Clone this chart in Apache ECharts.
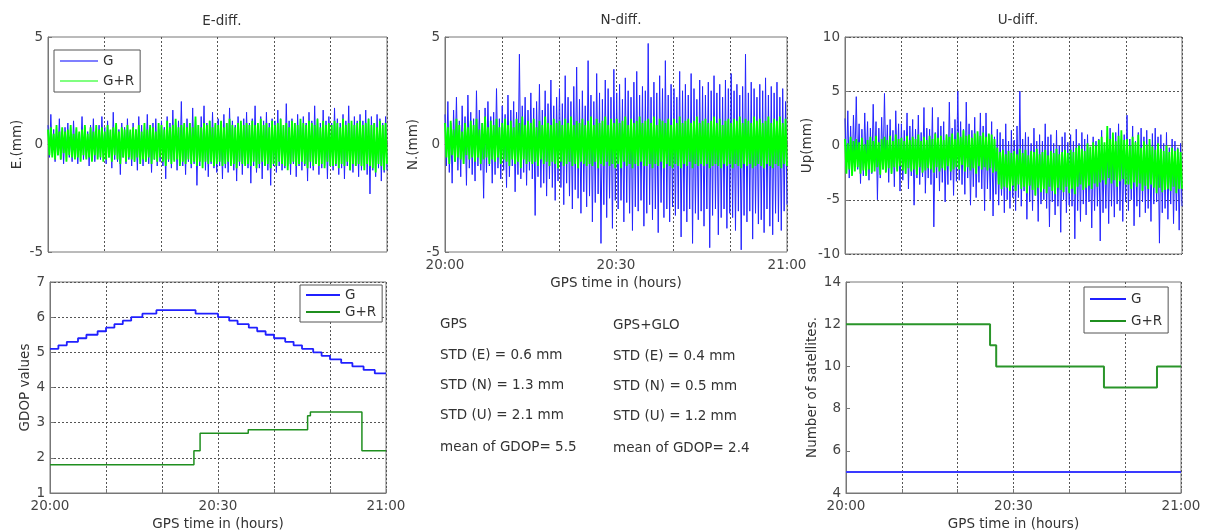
<!DOCTYPE html>
<html><head><meta charset="utf-8">
<script src="https://cdn.jsdelivr.net/npm/echarts@6/dist/echarts.min.js"></script>
<style>html,body{margin:0;padding:0;background:#fff}#c{width:1207px;height:532px}</style>
</head><body><div id="c"></div>
<script>
// ---- data ----
var timeTicks = ['20:00', '20:30', '21:00'];
// E-diff (mm), G and G+R, sampled evenly over 20:00-21:00
var eG = [
 0.9,-0.6,1.4,-0.4,0.7,-0.8,0.5,-0.5,1.2,-0.7,0.6,-0.9,0.8,-0.3,1.0,-0.6,0.4,-0.8,1.1,-0.5,
 0.7,-0.9,0.5,-0.4,1.3,-0.7,0.8,-0.6,0.6,-1.0,0.9,-0.5,1.2,-0.8,0.5,-0.6,0.9,-0.7,1.3,-0.4,
 0.8,-0.9,1.1,-0.6,0.6,-1.1,1.5,-0.7,0.9,-0.8,0.7,-1.4,1.0,-0.6,0.8,-0.9,1.2,-0.7,0.6,-1.0,
 1.0,-0.8,0.7,-1.2,1.3,-0.6,0.9,-1.0,0.6,-0.8,1.4,-0.9,0.8,-1.3,1.0,-0.7,1.2,-1.0,0.7,-0.8,
 1.1,-1.0,0.8,-1.6,1.3,-0.8,1.0,-1.1,1.6,-0.7,0.9,-1.2,1.1,-0.9,2.0,-1.0,0.8,-1.4,1.2,-0.8,
 1.0,-1.1,1.7,-0.9,1.2,-1.9,0.9,-1.0,1.3,-0.8,1.8,-1.2,1.0,-1.5,1.1,-0.9,1.5,-1.1,0.9,-1.3,
 1.2,-1.0,0.9,-1.6,1.4,-1.1,1.0,-1.3,1.7,-0.9,1.1,-1.2,0.9,-1.7,1.3,-1.0,1.0,-1.4,1.2,-0.9,
 1.5,-1.1,1.0,-1.8,1.2,-1.0,1.8,-1.3,0.9,-1.1,1.3,-1.6,1.1,-1.0,1.5,-1.2,1.0,-1.9,1.2,-1.0,
 1.1,-1.3,1.6,-1.0,1.2,-1.2,0.9,-1.1,1.9,-1.0,1.1,-1.4,1.2,-0.9,1.0,-1.5,1.4,-1.0,1.1,-1.2,
 1.3,-1.0,1.0,-1.7,1.5,-1.1,1.1,-1.2,1.8,-0.9,1.2,-1.4,1.0,-1.1,1.6,-1.0,1.1,-1.6,1.3,-1.0,
 1.0,-1.2,1.7,-1.0,1.2,-1.4,1.0,-1.1,1.4,-1.6,1.1,-1.0,1.8,-1.2,1.0,-1.3,1.3,-1.0,1.1,-1.5,
 1.4,-1.2,1.1,-1.0,1.6,-1.4,1.2,-2.3,1.3,-1.2,1.0,-1.5,1.4,-1.1,1.2,-1.7,1.0,-1.3,1.3,-1.2];
var eR = [
 0.7,-0.5,0.8,-0.6,0.5,-0.7,0.9,-0.5,0.6,-0.7,0.8,-0.4,0.6,-0.8,0.7,-0.5,0.9,-0.6,0.5,-0.7,
 0.8,-0.6,0.6,-0.8,0.7,-0.5,0.9,-0.7,0.5,-0.6,0.8,-0.8,0.6,-0.5,0.9,-0.7,0.7,-0.6,0.8,-0.8,
 0.6,-0.7,0.9,-0.6,0.7,-0.8,0.8,-0.5,1.0,-0.7,0.6,-0.9,0.8,-0.6,0.7,-0.8,0.9,-0.6,0.7,-0.7,
 0.8,-0.8,0.7,-0.6,0.9,-0.9,0.6,-0.7,1.0,-0.8,0.7,-0.6,0.9,-0.9,0.8,-0.7,0.6,-0.8,1.0,-0.6,
 0.9,-0.8,0.7,-1.0,1.1,-0.7,0.8,-0.9,0.9,-0.8,1.2,-0.7,0.8,-1.0,0.9,-0.8,1.0,-0.9,0.8,-0.7,
 1.0,-0.9,0.8,-0.8,1.3,-1.0,0.9,-0.8,0.8,-1.1,1.0,-0.8,0.9,-0.9,1.1,-0.8,0.8,-1.0,1.0,-0.9,
 0.9,-0.8,1.1,-1.0,0.8,-0.9,1.0,-0.8,1.2,-1.0,0.9,-0.9,0.8,-1.1,1.0,-0.8,1.1,-0.9,0.9,-1.0,
 1.0,-0.9,0.9,-1.0,1.1,-0.8,0.9,-1.1,1.0,-0.9,1.2,-0.8,0.9,-1.0,1.0,-0.9,0.8,-1.1,1.1,-0.9,
 0.9,-1.0,1.0,-0.8,1.2,-0.9,0.9,-1.0,1.0,-1.2,0.8,-0.9,1.1,-0.8,1.0,-1.0,0.9,-0.9,1.2,-0.8,
 1.0,-0.9,0.9,-1.1,1.1,-0.8,1.0,-1.0,0.9,-0.9,1.2,-1.0,0.8,-0.9,1.1,-1.1,0.9,-0.8,1.0,-1.0,
 0.9,-1.0,1.1,-0.9,1.0,-1.1,0.8,-0.9,1.2,-1.0,0.9,-0.8,1.0,-1.2,1.1,-0.9,0.9,-1.0,1.0,-0.9,
 1.1,-1.0,0.9,-1.2,1.0,-0.9,1.2,-1.0,0.9,-1.1,1.0,-1.3,0.8,-0.9,1.1,-1.0,0.9,-1.2,1.0,-0.9];
// N-diff (mm)
var nG = [
 1.4,-1.0,2.0,-1.3,1.0,-1.8,1.6,-0.8,2.2,-1.2,1.1,-1.5,1.8,-0.9,1.3,-1.9,2.3,-1.1,1.5,-1.4,
 1.2,-1.7,2.5,-1.0,1.6,-1.2,1.0,-2.5,1.7,-1.3,2.0,-1.0,1.3,-1.8,1.5,-1.4,2.6,-1.1,1.2,-1.6,
 1.8,-1.2,1.4,-2.0,2.3,-1.5,1.6,-1.0,2.0,-2.2,1.5,-1.4,4.2,-1.6,1.8,-1.3,2.2,-1.9,1.6,-1.2,
 2.4,-1.6,1.7,-3.3,2.0,-1.5,2.8,-2.0,1.6,-1.8,2.5,-2.4,1.9,-1.6,3.0,-2.0,1.8,-2.6,2.2,-1.7,
 2.6,-2.0,1.9,-2.8,3.2,-1.8,2.2,-2.4,2.0,-3.0,2.7,-2.1,3.6,-2.5,2.1,-3.2,2.5,-2.2,1.8,-2.9,
 3.9,-2.4,2.3,-3.6,2.0,-2.7,3.3,-2.3,2.4,-4.6,2.1,-2.8,3.0,-3.4,2.6,-2.5,2.2,-3.9,3.5,-2.6,
 2.4,-3.0,2.8,-2.6,2.1,-3.6,3.1,-2.7,2.5,-3.2,2.2,-4.0,2.9,-2.9,3.4,-3.1,2.3,-2.6,2.7,-3.8,
 2.5,-3.2,4.7,-2.8,2.2,-3.5,2.9,-3.0,2.4,-4.1,3.2,-2.7,2.6,-3.4,3.9,-3.0,2.3,-3.6,2.8,-2.9,
 2.6,-3.3,2.2,-3.0,3.4,-4.3,2.5,-3.1,2.8,-3.6,2.3,-3.0,3.3,-4.6,2.6,-3.2,2.1,-3.5,3.0,-3.1,
 2.7,-3.8,2.3,-3.0,2.9,-4.8,2.5,-3.3,3.2,-3.0,2.4,-4.2,2.8,-3.4,2.2,-3.0,3.0,-3.9,2.6,-3.2,
 3.3,-3.4,2.5,-4.0,2.8,-3.1,2.3,-4.9,2.7,-3.3,4.2,-3.6,2.4,-3.1,2.9,-4.4,2.6,-3.2,2.2,-3.7,
 2.8,-3.5,2.5,-4.1,3.1,-3.0,2.3,-3.8,2.7,-4.2,2.4,-3.2,2.9,-3.6,2.2,-4.0,2.6,-3.1,2.0,-2.8];
var nR = [
 1.0,-0.6,0.8,-0.9,1.1,-0.5,0.7,-0.8,1.2,-0.6,0.9,-0.7,0.6,-0.9,1.0,-0.5,0.8,-0.7,1.1,-0.6,
 0.9,-0.8,1.2,-0.6,0.7,-0.9,1.0,-0.7,1.3,-0.6,0.8,-0.9,1.1,-0.7,0.9,-0.8,1.2,-0.6,0.8,-0.9,
 1.0,-0.7,1.2,-0.8,0.9,-1.0,1.1,-0.7,0.8,-0.9,1.2,-0.8,1.0,-1.1,1.3,-0.7,0.9,-0.9,1.1,-0.8,
 1.0,-0.9,1.2,-0.8,0.8,-1.0,1.1,-0.7,0.9,-0.9,1.3,-0.8,1.0,-1.0,0.9,-0.8,1.2,-0.9,1.0,-1.1,
 1.1,-0.8,0.9,-1.0,1.2,-0.9,1.0,-0.8,1.3,-1.0,0.9,-0.9,1.1,-1.1,1.0,-0.8,1.2,-0.9,0.9,-1.0,
 1.1,-0.9,1.3,-1.0,0.9,-0.8,1.2,-1.1,1.0,-0.9,1.1,-1.0,1.3,-0.8,0.9,-1.0,1.2,-0.9,1.0,-1.1,
 1.2,-0.9,1.0,-1.1,1.1,-0.8,1.3,-1.0,0.9,-0.9,1.2,-1.1,1.0,-0.9,1.1,-1.0,1.3,-0.8,1.0,-1.0,
 1.1,-1.0,1.2,-0.9,1.0,-1.1,1.3,-0.9,0.9,-1.0,1.2,-0.8,1.1,-1.1,1.0,-0.9,1.2,-1.0,0.9,-1.1,
 1.2,-0.9,1.0,-1.0,1.3,-1.1,1.0,-0.9,1.1,-1.0,1.2,-0.8,1.0,-1.1,1.1,-0.9,1.3,-1.0,1.0,-0.9,
 1.1,-1.0,1.2,-0.9,1.0,-1.1,1.1,-1.0,1.3,-0.9,1.0,-1.0,1.2,-1.1,0.9,-0.9,1.1,-1.0,1.2,-0.9,
 1.0,-1.1,1.2,-0.9,1.1,-1.0,1.3,-1.1,1.0,-0.9,1.2,-1.0,1.1,-0.9,1.0,-1.1,1.3,-1.0,1.1,-0.9,
 1.2,-1.0,1.0,-1.1,1.1,-0.9,1.3,-1.0,1.0,-1.1,1.2,-0.9,1.1,-1.0,1.3,-1.1,1.0,-0.9,1.2,-1.0];
// U-diff (mm)
var uG = [
 2.5,-2.0,3.2,-3.0,1.8,-2.5,2.8,-1.6,4.5,-2.2,2.0,-3.5,1.5,-2.8,3.0,-2.0,2.2,-3.2,1.6,-2.6,
 3.8,-2.0,2.2,-5.0,1.6,-3.0,2.6,-2.2,4.8,-2.4,1.9,-3.4,2.4,-2.6,1.4,-3.8,3.2,-2.2,2.0,-4.2,
 2.0,-3.2,1.4,-2.6,3.0,-4.0,1.8,-2.8,2.4,-5.5,1.5,-3.0,2.8,-3.6,1.2,-2.9,3.5,-4.4,1.6,-3.0,
 1.5,-3.6,3.5,-7.5,1.2,-3.0,2.6,-4.2,1.8,-3.4,2.2,-5.2,1.0,-3.6,4.0,-3.2,1.6,-4.6,2.4,-3.3,
 5.0,-3.2,2.2,-3.6,1.5,-4.5,4.0,-3.0,2.0,-5.5,1.4,-3.8,2.6,-4.8,1.2,-3.4,3.0,-4.0,1.8,-6.0,
 3.0,-4.0,1.0,-5.0,2.2,-6.5,0.8,-4.5,1.5,-5.5,1.2,-4.6,0.6,-6.2,2.0,-5.0,0.4,-5.8,1.4,-4.8,
 0.5,-6.0,1.8,-4.8,5.0,-5.6,0.6,-4.2,1.2,-6.8,0.8,-5.2,0.2,-6.0,1.6,-4.6,0.4,-7.0,1.0,-5.4,
 0.4,-5.0,2.0,-5.8,0.8,-7.5,1.0,-5.2,0.2,-6.4,1.4,-5.6,0.0,-8.0,0.8,-5.0,1.2,-6.2,0.3,-5.5,
 1.0,-5.6,0.4,-8.6,1.5,-6.0,0.2,-7.0,1.2,-5.4,0.6,-6.4,1.0,-5.2,-0.2,-7.6,0.8,-6.0,0.4,-5.6,
 0.6,-8.8,1.4,-6.2,0.0,-5.8,0.8,-7.2,1.6,-5.6,0.4,-6.6,1.2,-5.4,2.0,-6.0,0.6,-7.0,1.0,-5.2,
 2.8,-6.0,0.6,-5.0,1.8,-7.4,0.4,-5.6,1.2,-6.6,1.6,-5.2,0.8,-6.2,1.4,-5.8,0.2,-7.0,1.1,-5.4,
 1.6,-5.2,0.8,-9.0,1.0,-6.2,0.2,-5.8,1.2,-6.8,-0.2,-5.4,0.6,-7.2,0.4,-6.0,-0.2,-7.8,0.2,-5.6];
var uR = [
 0.6,-2.6,0.2,-2.2,0.8,-2.8,0.4,-2.4,0.6,-2.0,0.3,-2.6,0.7,-2.3,0.1,-2.8,0.5,-2.2,0.8,-2.5,
 0.4,-2.4,0.9,-2.0,0.3,-2.7,0.6,-2.2,0.8,-2.5,0.5,-2.1,0.9,-2.6,0.4,-2.0,1.0,-2.4,0.6,-1.9,
 0.7,-2.3,0.4,-2.6,0.9,-2.1,0.5,-2.4,0.8,-2.2,0.6,-2.7,1.0,-2.0,0.4,-2.5,0.8,-2.3,0.5,-2.1,
 0.9,-2.2,0.6,-2.5,1.1,-2.0,0.7,-2.4,0.9,-2.1,0.5,-2.3,1.0,-1.9,0.8,-2.4,1.1,-2.2,0.6,-2.0,
 1.2,-2.2,0.8,-1.8,1.4,-2.4,0.9,-2.0,1.0,-2.3,0.7,-2.1,1.1,-2.6,1.3,-1.9,0.9,-2.2,1.2,-2.0,
 0.8,-2.3,1.1,-2.1,1.0,-2.5,0.6,-2.4,-0.2,-3.6,-0.6,-4.0,-0.4,-3.8,-0.8,-3.9,-0.5,-4.2,-0.7,-3.7,
 -0.5,-4.2,-0.8,-3.6,-0.3,-4.0,-0.7,-3.8,-0.4,-4.4,-0.9,-3.7,-0.5,-4.1,-0.6,-4.6,-0.3,-3.9,-0.8,-4.3,
 -0.6,-4.0,-0.4,-4.4,-0.9,-3.8,-0.5,-4.2,-0.7,-4.5,-0.3,-3.9,-0.8,-4.1,-0.6,-4.3,-0.4,-3.8,-0.7,-4.4,
 -0.4,-4.0,-0.6,-4.5,-0.2,-3.8,0.0,-3.6,-0.3,-4.1,-0.5,-3.9,0.2,-3.7,-0.1,-4.0,0.3,-3.5,0.0,-3.8,
 0.5,-3.4,0.8,-3.2,0.3,-3.6,1.8,-3.0,0.6,-3.5,1.2,-3.2,0.4,-3.8,0.9,-3.3,1.4,-3.1,0.5,-3.6,
 0.6,-3.6,0.0,-4.0,0.8,-3.4,0.3,-3.8,1.0,-3.5,-0.2,-4.2,0.4,-3.7,0.1,-4.0,0.6,-3.6,-0.1,-3.9,
 -0.4,-4.4,0.2,-3.9,-0.3,-4.3,-0.5,-4.1,0.0,-4.0,-0.6,-4.2,-0.2,-3.8,-0.5,-4.4,-0.3,-4.0,-0.6,-4.0];
// GDOP step series: minutes after 20:00 and values
var gdopGTime = [0,1.5,3,5,6.5,8.5,10,11.5,13,14.5,16.5,19,26,30,32,33.5,35.5,37,38.5,40,42,43.5,45,47,48.5,50,52,54,56,58,60];
var gdopGVal  = [5.1,5.2,5.3,5.4,5.5,5.6,5.7,5.8,5.9,6.0,6.1,6.2,6.1,6.0,5.9,5.8,5.7,5.6,5.5,5.4,5.3,5.2,5.1,5.0,4.9,4.8,4.7,4.6,4.5,4.4,4.4];
var gdopRTime = [0,25.7,26.8,35.4,46,46.5,55.7,60];
var gdopRVal  = [1.8,2.2,2.7,2.8,3.2,3.3,2.2,2.2];
var satGTime = [0,60];
var satGVal  = [5,5];
var satRTime = [0,25.8,26.9,46.2,55.7,60];
var satRVal  = [12,11,10,9,10,10];
var statsGPS = ['GPS','STD (E) = 0.6 mm','STD (N) = 1.3 mm','STD (U) = 2.1 mm','mean of GDOP= 5.5'];
var statsGLO = ['GPS+GLO','STD (E) = 0.4 mm','STD (N) = 0.5 mm','STD (U) = 1.2 mm','mean of GDOP= 2.4'];

// ---- build ----
function noise(arr){ var n=arr.length; return arr.map(function(v,i){return [i*60/(n-1), v];}); }
function pairs(t,v){ return t.map(function(x,i){return [x, v[i]];}); }
var FONT = 'DejaVu Sans';
var TXT = '#333';
function xAx(grid, showLabels){
  return {type:'value', gridIndex:grid, min:0, max:60, interval:10,
    axisLine:{show:true, lineStyle:{color:'#777'}},
    axisTick:{show:true, inside:true, length:4, lineStyle:{color:'#777'}},
    axisLabel:{show:showLabels, fontSize:13.5, color:'#444', fontFamily:FONT, margin:6,
      formatter:function(v){ return v===0?timeTicks[0]:v===30?timeTicks[1]:v===60?timeTicks[2]:''; }},
    splitLine:{show:true, lineStyle:{color:'#555', type:[2,2], width:1}},
    name: showLabels ? 'GPS time in (hours)' : '', nameLocation:'middle', nameGap:24,
    nameTextStyle:{fontSize:13.5, color:TXT, fontFamily:FONT}};
}
function yAx(grid, min, max, interval, name, gap, split){
  return {type:'value', gridIndex:grid, min:min, max:max, interval:interval,
    axisLine:{show:true, lineStyle:{color:'#777'}},
    axisTick:{show:true, inside:true, length:4, lineStyle:{color:'#777'}},
    axisLabel:{fontSize:13.5, color:'#444', fontFamily:FONT, margin:5},
    splitLine:{show:split, lineStyle:{color:'#555', type:[2,2], width:1}},
    name:name, nameLocation:'middle', nameGap:gap, nameRotate:90,
    nameTextStyle:{fontSize:13.5, color:TXT, fontFamily:FONT}};
}
var BLUE_N = '#2424ff', GREEN_N = '#00ff00';
function ln(name, x, y, data, color, width, step){
  var s = {type:'line', name:name, xAxisIndex:x, yAxisIndex:y, data:data, symbol:'none',
    showSymbol:false, sampling:null, lineStyle:{color:color, width:width}, itemStyle:{color:color}, animation:false, silent:true};
  if (step) s.step = 'end';
  return s;
}
var grids = [
  {left:48, right:820, top:37, height:215},
  {left:445, right:420, top:37, height:215},
  {left:845, right:25, top:37, height:217},
  {left:50, right:821, top:282, height:214},
  {left:846, right:26, top:282, height:214}
].map(function(g){ g.show=true; g.borderColor='#777'; g.borderWidth=1; g.backgroundColor='#fff'; return g; });

var legBase = {orient:'vertical', icon:'rect', itemHeight:2, itemGap:6, backgroundColor:'#fff',
  borderColor:'#555', borderWidth:1, textStyle:{fontSize:13.5, color:TXT, fontFamily:FONT}, selectedMode:false};
function leg(o){ var r={}; for (var k in legBase) r[k]=legBase[k]; for (var k2 in o) r[k2]=o[k2]; return r; }

var graphics = [];
var rowsY = [325, 356, 386, 416, 448];
statsGPS.forEach(function(t,i){ graphics.push({type:'text', left:440, top:rowsY[i]-8, style:{text:t, fontSize:13.5, fill:TXT, fontFamily:FONT}}); });
statsGLO.forEach(function(t,i){ graphics.push({type:'text', left:613, top:rowsY[i]-7, style:{text:t, fontSize:13.5, fill:TXT, fontFamily:FONT}}); });

var option = {
  animation:false,
  backgroundColor:'#fff',
  title:[
    {text:'E-diff.', left:217, top:9, textAlign:'center', textStyle:{fontSize:13.5, fontWeight:'normal', color:TXT, fontFamily:FONT}},
    {text:'N-diff.', left:616, top:8, textAlign:'center', textStyle:{fontSize:13.5, fontWeight:'normal', color:TXT, fontFamily:FONT}},
    {text:'U-diff.', left:1013, top:8, textAlign:'center', textStyle:{fontSize:13.5, fontWeight:'normal', color:TXT, fontFamily:FONT}}
  ],
  grid:grids,
  xAxis:[xAx(0,false), xAx(1,true), xAx(2,false), xAx(3,true), xAx(4,true)],
  yAxis:[
    yAx(0,-5,5,5,'E.(mm)',24,false),
    yAx(1,-5,5,5,'N.(mm)',25,false),
    yAx(2,-10,10,5,'Up(mm)',27,true),
    yAx(3,1,7,1,'GDOP values',18,true),
    yAx(4,4,14,2,'Number of satellites.',24,false)
  ],
  legend:[
    leg({left:54, top:50, itemWidth:38, padding:[4,6,4,6], data:[{name:'G', itemStyle:{color:'#7f7fff'}},{name:'G+R', itemStyle:{color:'#80ff80'}}]}),
    leg({left:300, top:285, itemWidth:34, itemGap:3, padding:[3,6,3,6], data:[{name:'G', itemStyle:{color:'#2020ff'}},{name:'G+R', itemStyle:{color:'#1f8f1f'}}]}),
    leg({left:1084, top:287, itemWidth:36, itemGap:8, padding:[5,6,5,6], data:[{name:'G', itemStyle:{color:'#2020ff'}},{name:'G+R', itemStyle:{color:'#1f8f1f'}}]})
  ],
  graphic:graphics,
  series:[
    ln('G',0,0,noise(eG),BLUE_N,1),
    ln('G+R',0,0,noise(eR),GREEN_N,1.8),
    ln('G',1,1,noise(nG),BLUE_N,1),
    ln('G+R',1,1,noise(nR),GREEN_N,1.8),
    ln('G',2,2,noise(uG),BLUE_N,1),
    ln('G+R',2,2,noise(uR),GREEN_N,1.8),
    ln('G',3,3,pairs(gdopGTime,gdopGVal),'#2020ff',1.8,true),
    ln('G+R',3,3,pairs(gdopRTime,gdopRVal),'#1f8f1f',1.5,true),
    ln('G',4,4,pairs(satGTime,satGVal),'#3a3aff',2,true),
    ln('G+R',4,4,pairs(satRTime,satRVal),'#2a952a',2,true)
  ]
};
var chart = echarts.init(document.getElementById('c'), null, {renderer:'canvas'});
chart.setOption(option);
</script>
</body></html>
